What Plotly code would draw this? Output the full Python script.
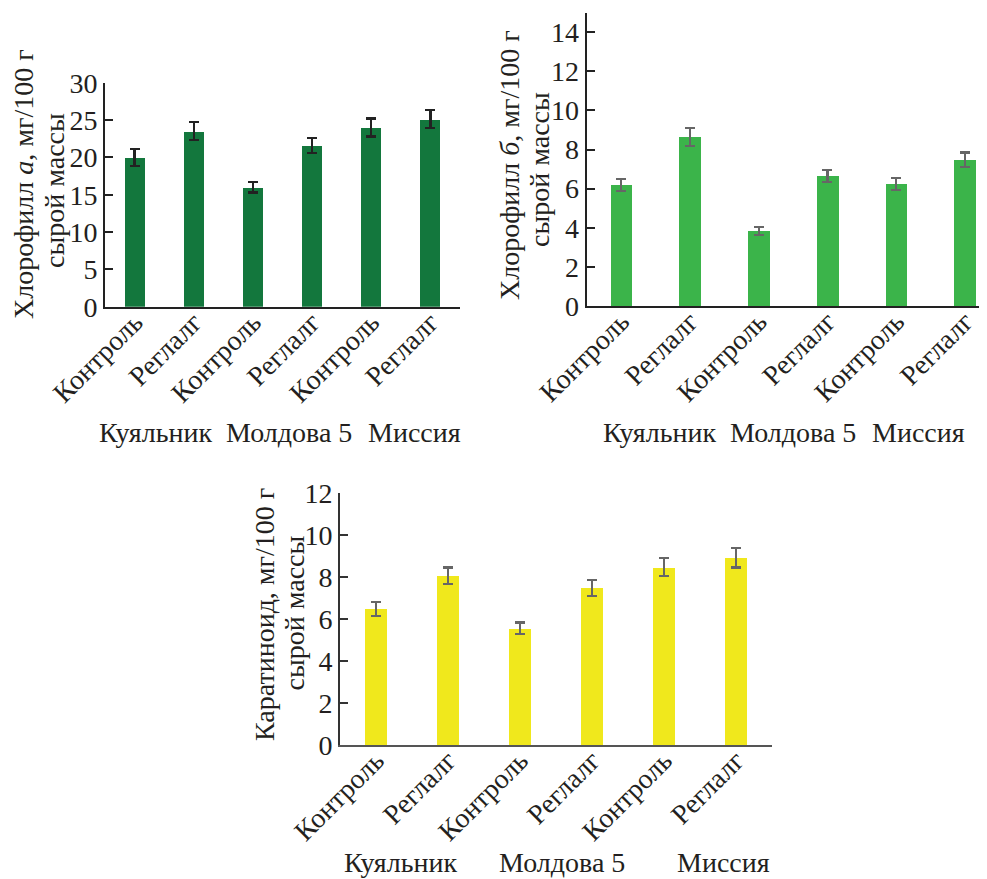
import plotly.graph_objects as go

W, H = 987, 879
OFF = 8  # page body margin

categories = ["Контроль", "Реглалг", "Контроль", "Реглалг", "Контроль", "Реглалг"]
groups = ["Куяльник", "Молдова 5", "Миссия"]

chl_a = [20.0, 23.5, 16.0, 21.6, 24.0, 25.1]
chl_a_err = [1.15, 1.2, 0.7, 1.0, 1.2, 1.2]

chl_b = [6.2, 8.65, 3.85, 6.65, 6.25, 7.47]
chl_b_err = [0.3, 0.45, 0.2, 0.3, 0.3, 0.38]

carot = [6.47, 8.04, 5.55, 7.48, 8.45, 8.9]
carot_err = [0.33, 0.4, 0.28, 0.38, 0.43, 0.46]

TXT = "#231f20"
FONT = "Liberation Serif"
FS = 28

def px(x):
    return (x - OFF) / W

def py(y):
    return 1 - (y - OFF) / H

xs = list(range(6))

fig = go.Figure()
fig.add_trace(go.Bar(x=xs, y=chl_a, width=0.34, marker=dict(color="#13773d", line=dict(width=0)),
                     error_y=dict(type="data", array=chl_a_err, color="#222222", thickness=2.2, width=5),
                     xaxis="x", yaxis="y", showlegend=False))
fig.add_trace(go.Bar(x=xs, y=chl_b, width=0.315, marker=dict(color="#3bb44a", line=dict(width=0)),
                     error_y=dict(type="data", array=chl_b_err, color="#666666", thickness=2.2, width=5),
                     xaxis="x2", yaxis="y2", showlegend=False))
fig.add_trace(go.Bar(x=xs, y=carot, width=0.31, marker=dict(color="#f0e81c", line=dict(width=0)),
                     error_y=dict(type="data", array=carot_err, color="#666666", thickness=2.2, width=5),
                     xaxis="x3", yaxis="y3", showlegend=False))

def xax(domain, rng, yname, color="#222222"):
    return dict(domain=domain, range=rng, anchor=yname, showline=True, linecolor=color, linewidth=2,
                tickmode="array", tickvals=xs, ticktext=categories, tickangle=-45, ticks="",
                ticklabelstandoff=-14,
                showgrid=False, zeroline=False, tickfont=dict(family=FONT, size=FS, color=TXT),
                fixedrange=True, automargin=False)

def yax(domain, rng, dtick, xname, color="#222222"):
    return dict(domain=domain, range=rng, anchor=xname, showline=True, linecolor=color, linewidth=2,
                ticks="inside", ticklen=8, tickwidth=2, tickcolor=color, dtick=dtick, tick0=0,
                showgrid=False, zeroline=False, tickfont=dict(family=FONT, size=FS, color=TXT),
                fixedrange=True, automargin=False)

fig.update_layout(
    width=W, height=H, margin=dict(l=0, r=0, t=0, b=0, autoexpand=False),
    paper_bgcolor="white", plot_bgcolor="white", bargap=0,
    xaxis=xax([px(105), px(460)], [-0.5, 5.5], "y"),
    yaxis=yax([py(306.7), py(82.7)], [0, 30], 5, "x"),
    xaxis2=xax([px(586.7), px(987)], [-0.5, 5.32], "y2"),
    yaxis2=yax([py(306), py(12.7)], [0, 15], 2, "x2"),
    xaxis3=xax([px(340), px(772)], [-0.5, 5.5], "y3", color="#555555"),
    yaxis3=yax([py(745), py(492.7)], [0, 12], 2, "x3", color="#333333"),
)

anns = []
def add_ann(text, x, y, angle=0):
    anns.append(dict(text=text, x=px(x), y=py(y), xref="paper", yref="paper", showarrow=False,
                     xanchor="center", yanchor="middle", textangle=angle,
                     font=dict(family=FONT, size=FS, color=TXT)))

add_ann("Хлорофилл <i>а</i>, мг/100 г", 24, 184, -90)
add_ann("сырой массы", 54, 191, -90)
add_ann("Хлорофилл <i>б</i>, мг/100 г", 509, 165, -90)
add_ann("сырой массы", 540, 170, -90)
add_ann("Каратиноид, мг/100 г", 264, 615, -90)
add_ann("сырой массы", 293.5, 613, -90)

for name, x in zip(groups, [155.5, 289, 414]):
    add_ann(name, x, 432)
for name, x in zip(groups, [659, 793, 918]):
    add_ann(name, x, 432)
for name, x in zip(groups, [400, 561.5, 723]):
    add_ann(name, x, 862)

fig.update_layout(annotations=anns)
fig.write_html("out.html")
